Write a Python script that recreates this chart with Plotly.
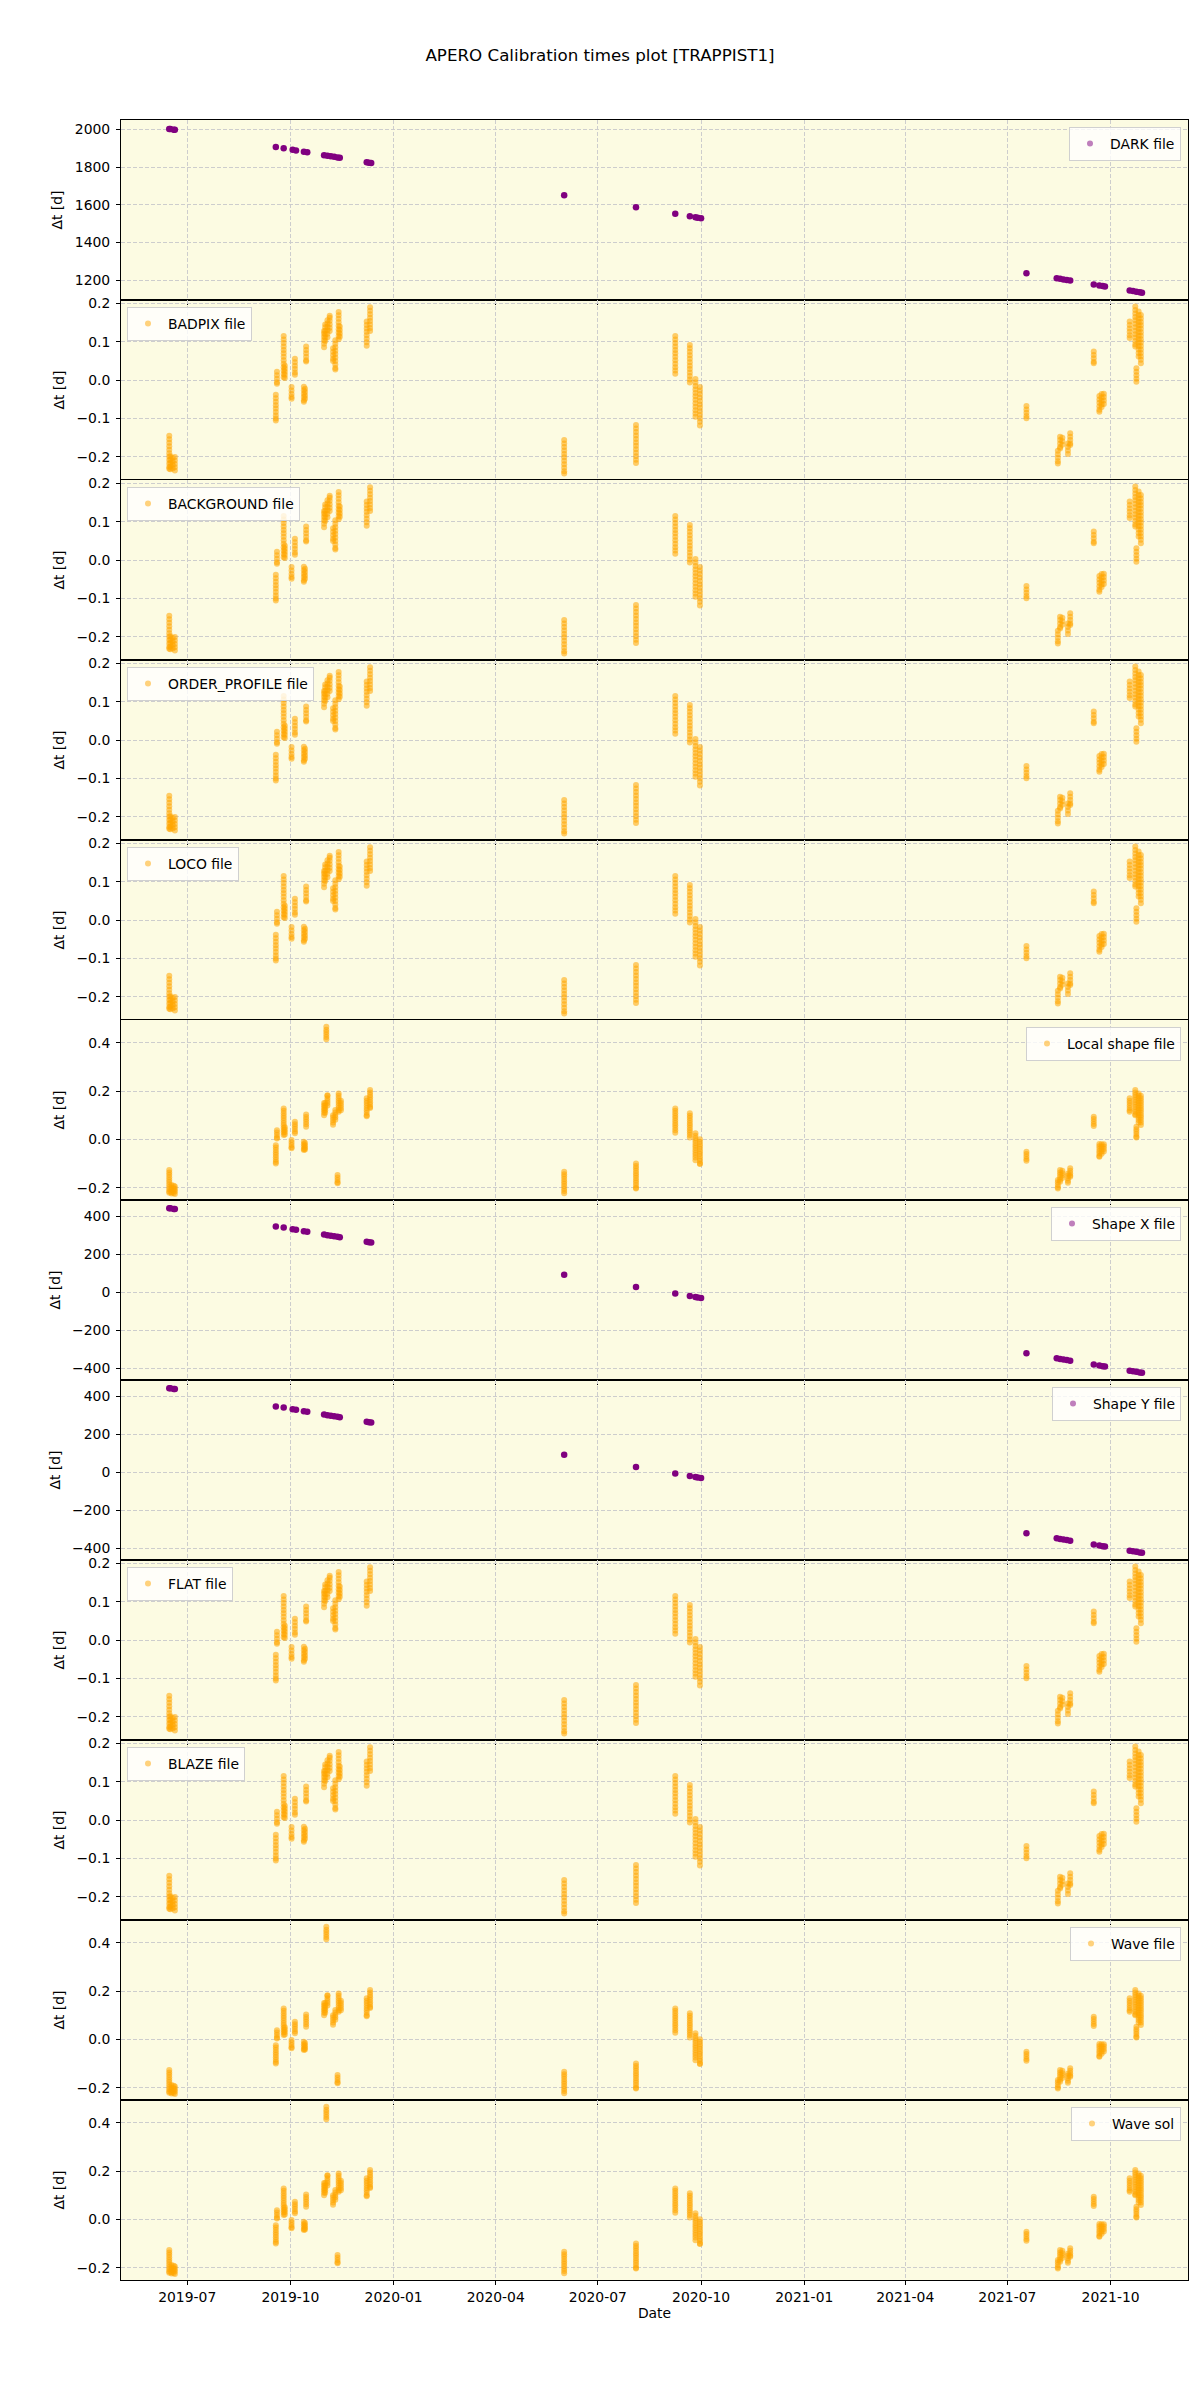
import plotly.graph_objects as go
from plotly.subplots import make_subplots

# ---------------- data ----------------
dark_dates = ["2019-06-15", "2019-06-16", "2019-06-19", "2019-06-20",
              "2019-09-18", "2019-09-25", "2019-10-03", "2019-10-06", "2019-10-13", "2019-10-16",
              "2019-10-31", "2019-11-03", "2019-11-06", "2019-11-09", "2019-11-12", "2019-11-14",
              "2019-12-08", "2019-12-10", "2019-12-12",
              "2020-06-01", "2020-08-04", "2020-09-08", "2020-09-21", "2020-09-26", "2020-09-28", "2020-10-01",
              "2021-07-18", "2021-08-14", "2021-08-17", "2021-08-20", "2021-08-23", "2021-08-26",
              "2021-09-16", "2021-09-21", "2021-09-24", "2021-09-26",
              "2021-10-18", "2021-10-21", "2021-10-24", "2021-10-27", "2021-10-29"]
dark_dt = [2002, 2001, 1998, 1997,
           1906, 1900, 1891, 1888, 1881, 1878,
           1863, 1860, 1857, 1854, 1851, 1849,
           1825, 1823, 1821,
           1651, 1587, 1552, 1539, 1534, 1532, 1529,
           1238, 1211, 1208, 1205, 1202, 1199,
           1178, 1173, 1170, 1168,
           1146, 1143, 1140, 1137, 1135]

shapex_dates = dark_dates
shapex_dt = [443, 442, 439, 438,
             347, 341, 332, 329, 322, 319,
             304, 301, 298, 295, 292, 290,
             266, 264, 262,
             92, 28, -7, -20, -25, -27, -30,
             -321, -348, -351, -354, -357, -360,
             -381, -386, -389, -391,
             -413, -416, -419, -422, -424]

night_dates = ["2019-06-15", "2019-06-16", "2019-06-18", "2019-06-20",
               "2019-09-18", "2019-09-19", "2019-09-25", "2019-09-26",
               "2019-10-02", "2019-10-05", "2019-10-13", "2019-10-14", "2019-10-15",
               "2019-10-31", "2019-11-01", "2019-11-03", "2019-11-05",
               "2019-11-08", "2019-11-10", "2019-11-13", "2019-11-14",
               "2019-12-08", "2019-12-11",
               "2020-06-01", "2020-08-04", "2020-09-08", "2020-09-21", "2020-09-26", "2020-09-30",
               "2021-07-18", "2021-08-15", "2021-08-17", "2021-08-19", "2021-08-24", "2021-08-26",
               "2021-09-16", "2021-09-21", "2021-09-23", "2021-09-25",
               "2021-10-18", "2021-10-23", "2021-10-24", "2021-10-26", "2021-10-28"]
night_dt = [
    [-0.145, -0.154, -0.163, -0.172, -0.181, -0.19, -0.199, -0.208, -0.217, -0.226, -0.231],
    [-0.198, -0.207, -0.216, -0.225, -0.232],
    [-0.203, -0.212, -0.221, -0.23],
    [-0.2, -0.209, -0.218, -0.227, -0.235],
    [-0.038, -0.047, -0.056, -0.065, -0.074, -0.083, -0.092, -0.1, -0.105],
    [0.022, 0.013, 0.004, -0.005, -0.009],
    [0.115, 0.106, 0.097, 0.088, 0.079, 0.07, 0.061, 0.052, 0.043, 0.034, 0.025, 0.016, 0.008],
    [0.038, 0.03, 0.022, 0.014, 0.006],
    [-0.018, -0.027, -0.036, -0.044, -0.048],
    [0.056, 0.047, 0.038, 0.029, 0.02, 0.014],
    [-0.017, -0.026, -0.035, -0.044, -0.052, -0.056],
    [-0.022, -0.031, -0.04, -0.048],
    [0.088, 0.079, 0.07, 0.061, 0.052, 0.049],
    [0.086, 0.095, 0.104, 0.113, 0.122, 0.128],
    [0.102, 0.111, 0.12, 0.129, 0.138, 0.145],
    [0.112, 0.121, 0.13, 0.139, 0.148, 0.156],
    [0.128, 0.137, 0.146, 0.155, 0.163, 0.168],
    [0.083, 0.074, 0.065, 0.056, 0.05],
    [0.104, 0.095, 0.086, 0.077, 0.068, 0.059, 0.05, 0.041, 0.032, 0.028],
    [0.178, 0.169, 0.16, 0.151, 0.142, 0.133, 0.124, 0.115, 0.107],
    [0.14, 0.131, 0.122, 0.113],
    [0.153, 0.144, 0.135, 0.126, 0.117, 0.108, 0.099, 0.09],
    [0.19, 0.181, 0.172, 0.163, 0.154, 0.145, 0.136, 0.128],
    [-0.156, -0.165, -0.174, -0.183, -0.192, -0.201, -0.21, -0.219, -0.228, -0.237, -0.243],
    [-0.117, -0.126, -0.135, -0.144, -0.153, -0.162, -0.171, -0.18, -0.189, -0.198, -0.207, -0.216],
    [0.115, 0.106, 0.097, 0.088, 0.079, 0.07, 0.061, 0.052, 0.043, 0.034, 0.025, 0.017],
    [0.092, 0.083, 0.074, 0.065, 0.056, 0.047, 0.038, 0.029, 0.02, 0.011, 0.002, -0.006],
    [0.003, -0.006, -0.015, -0.024, -0.033, -0.042, -0.051, -0.06, -0.069, -0.078, -0.087, -0.095],
    [-0.018, -0.027, -0.036, -0.045, -0.054, -0.063, -0.072, -0.081, -0.09, -0.099, -0.108, -0.118],
    [-0.067, -0.076, -0.085, -0.093, -0.099],
    [-0.184, -0.193, -0.202, -0.211, -0.217],
    [-0.147, -0.156, -0.165, -0.174, -0.178],
    [-0.15, -0.159, -0.168],
    [-0.165, -0.174, -0.183, -0.192],
    [-0.138, -0.147, -0.156, -0.165, -0.169],
    [0.075, 0.066, 0.057, 0.048, 0.044],
    [-0.041, -0.05, -0.059, -0.068, -0.077, -0.082],
    [-0.036, -0.045, -0.054, -0.063, -0.07],
    [-0.035, -0.044, -0.053, -0.062],
    [0.153, 0.144, 0.135, 0.126, 0.117, 0.11],
    [0.192, 0.183, 0.174, 0.165, 0.156, 0.147, 0.138, 0.129, 0.12, 0.111, 0.102, 0.093, 0.088],
    [0.031, 0.022, 0.013, 0.004, -0.004],
    [0.179, 0.17, 0.161, 0.152, 0.143, 0.134, 0.125, 0.116, 0.107, 0.098, 0.089, 0.08, 0.071, 0.062],
    [0.17, 0.161, 0.152, 0.143, 0.134, 0.125, 0.116, 0.107, 0.098, 0.089, 0.08, 0.071, 0.062, 0.053, 0.044],
]

shape_dates = ["2019-06-15", "2019-06-17", "2019-06-19", "2019-06-20",
               "2019-09-18", "2019-09-19", "2019-09-25", "2019-09-26",
               "2019-10-02", "2019-10-05", "2019-10-13", "2019-10-14", "2019-10-15",
               "2019-10-31", "2019-11-01", "2019-11-02", "2019-11-03",
               "2019-11-08", "2019-11-10", "2019-11-12", "2019-11-13", "2019-11-15",
               "2019-12-08", "2019-12-11",
               "2020-06-01", "2020-08-04", "2020-09-08", "2020-09-21", "2020-09-26", "2020-09-30",
               "2021-07-18", "2021-08-15", "2021-08-17", "2021-08-19", "2021-08-24", "2021-08-26",
               "2021-09-16", "2021-09-21", "2021-09-23", "2021-09-25",
               "2021-10-18", "2021-10-23", "2021-10-24", "2021-10-26", "2021-10-28"]
shape_dt = [
    [-0.127, -0.137, -0.147, -0.157, -0.167, -0.177, -0.187, -0.197, -0.207, -0.216, -0.221],
    [-0.189, -0.199, -0.209, -0.219, -0.224],
    [-0.192, -0.202, -0.212, -0.222],
    [-0.195, -0.205, -0.215, -0.226],
    [-0.024, -0.034, -0.044, -0.054, -0.064, -0.074, -0.084, -0.094, -0.1],
    [0.038, 0.028, 0.018, 0.008, 0.004],
    [0.128, 0.118, 0.108, 0.098, 0.088, 0.078, 0.068, 0.058, 0.048, 0.038, 0.028, 0.018],
    [0.05, 0.04, 0.03, 0.02],
    [-0.003, -0.013, -0.023, -0.033, -0.037],
    [0.073, 0.063, 0.053, 0.043, 0.033, 0.025],
    [-0.01, -0.02, -0.03, -0.04, -0.044],
    [-0.015, -0.025, -0.035, -0.042],
    [0.103, 0.093, 0.083, 0.073, 0.063, 0.052],
    [0.1, 0.11, 0.12, 0.13, 0.14, 0.15],
    [0.11, 0.12, 0.13, 0.14, 0.15],
    [0.414, 0.424, 0.434, 0.444, 0.454, 0.466],
    [0.14, 0.15, 0.16, 0.17, 0.18, 0.183],
    [0.1, 0.09, 0.08, 0.07, 0.06],
    [0.121, 0.111, 0.101, 0.091, 0.081],
    [-0.148, -0.158, -0.168, -0.178, -0.182],
    [0.19, 0.18, 0.17, 0.16, 0.15, 0.14, 0.13, 0.12, 0.114],
    [0.16, 0.15, 0.14, 0.13, 0.12],
    [0.17, 0.16, 0.15, 0.14, 0.13, 0.12, 0.11, 0.1, 0.096],
    [0.204, 0.194, 0.184, 0.174, 0.164, 0.154, 0.144, 0.134, 0.13],
    [-0.134, -0.144, -0.154, -0.164, -0.174, -0.184, -0.194, -0.204, -0.214, -0.223],
    [-0.1, -0.11, -0.12, -0.13, -0.14, -0.15, -0.16, -0.17, -0.18, -0.19, -0.2, -0.203],
    [0.128, 0.118, 0.108, 0.098, 0.088, 0.078, 0.068, 0.058, 0.048, 0.038, 0.027],
    [0.108, 0.098, 0.088, 0.078, 0.068, 0.058, 0.048, 0.038, 0.028, 0.018, 0.008],
    [0.025, 0.015, 0.005, -0.005, -0.015, -0.025, -0.035, -0.045, -0.055, -0.065, -0.075, -0.086],
    [0.0, -0.01, -0.02, -0.03, -0.04, -0.05, -0.06, -0.07, -0.08, -0.09, -0.1, -0.102],
    [-0.051, -0.061, -0.071, -0.081, -0.089],
    [-0.168, -0.178, -0.188, -0.198, -0.203],
    [-0.127, -0.137, -0.147, -0.157, -0.167, -0.175],
    [-0.13, -0.14, -0.15, -0.16],
    [-0.141, -0.151, -0.161, -0.171, -0.18],
    [-0.12, -0.13, -0.14, -0.15, -0.155],
    [0.094, 0.084, 0.074, 0.064, 0.055],
    [-0.019, -0.029, -0.039, -0.049, -0.059, -0.069, -0.072],
    [-0.02, -0.03, -0.04, -0.05, -0.06],
    [-0.02, -0.03, -0.04, -0.05],
    [0.17, 0.16, 0.15, 0.14, 0.13, 0.12, 0.114],
    [0.204, 0.194, 0.184, 0.174, 0.164, 0.154, 0.144, 0.134, 0.124, 0.114, 0.104, 0.1],
    [0.052, 0.042, 0.032, 0.022, 0.012, 0.008],
    [0.19, 0.18, 0.17, 0.16, 0.15, 0.14, 0.13, 0.12, 0.11, 0.1, 0.09, 0.08, 0.07],
    [0.18, 0.17, 0.16, 0.15, 0.14, 0.13, 0.12, 0.11, 0.1, 0.09, 0.08, 0.07, 0.059],
]

panel_labels = ["DARK file", "BADPIX file", "BACKGROUND file", "ORDER_PROFILE file", "LOCO file",
                "Local shape file", "Shape X file", "Shape Y file", "FLAT file", "BLAZE file",
                "Wave file", "Wave sol"]
panel_groups = ["dark", "night", "night", "night", "night", "shape", "shapex", "shapex",
                "night", "night", "shape", "shape"]
legend_sides = ["right", "left", "left", "left", "left", "right", "right", "right",
                "left", "left", "right", "right"]

# ---------------- styling ----------------
FONT = "DejaVu Sans"
PURPLE = "#800080"
ORANGE = "#FFA500"
BG = "#FCFBE2"
GRID = "#cdcdcd"

groups = {
    "dark": (dark_dates, [[v] for v in dark_dt]),
    "shapex": (shapex_dates, [[v] for v in shapex_dt]),
    "night": (night_dates, night_dt),
    "shape": (shape_dates, shape_dt),
}
yranges = {"dark": [1096, 2049], "shapex": [-462, 486],
           "night": [-0.26, 0.209], "shape": [-0.251, 0.494]}
ydticks = {"dark": 200, "shapex": 200, "night": 0.1, "shape": 0.2}
yfmt = {"dark": "d", "shapex": "d", "night": ".1f", "shape": ".1f"}

N = len(panel_labels)
fig = make_subplots(rows=N, cols=1, shared_xaxes=True, vertical_spacing=0)

W, H = 1200, 2400
ml, mr, mt, mb = 121, 12, 120, 120
plot_h = H - mt - mb
plot_w = W - ml - mr

for i, (label, grp, side) in enumerate(zip(panel_labels, panel_groups, legend_sides)):
    row = i + 1
    dates, vals = groups[grp]
    xs = [d for d, v in zip(dates, vals) for _ in v]
    ys = [y for v in vals for y in v]
    purple = grp in ("dark", "shapex")
    color = PURPLE if purple else ORANGE
    lname = "legend" if i == 0 else f"legend{i + 1}"
    fig.add_trace(go.Scatter(
        x=xs, y=ys, mode="markers",
        marker=dict(color=color, size=6.5 if purple else 6, opacity=1.0 if purple else 0.55,
                    line=dict(width=0)),
        showlegend=False, hoverinfo="x+y"), row=row, col=1)
    fig.add_trace(go.Scatter(
        x=[None], y=[None], mode="markers", name=label,
        marker=dict(color=color, size=6, opacity=0.5),
        legend=lname, showlegend=True), row=row, col=1)

    top = 1 - i / N - 7 / plot_h
    if side == "right":
        leg = dict(x=1 - 7 / plot_w, xanchor="right")
    else:
        leg = dict(x=6 / plot_w, xanchor="left")
    leg.update(y=top, yanchor="top", xref="paper", yref="paper",
               bgcolor="rgba(255,255,255,0.8)", bordercolor="#d0d0d0", borderwidth=1,
               font=dict(family=FONT, size=13.9, color="black"),
               itemsizing="trace", tracegroupgap=0)
    fig.update_layout(**{lname: leg})

    fig.update_yaxes(
        row=row, col=1, range=yranges[grp], dtick=ydticks[grp], tick0=0,
        tickformat=yfmt[grp], showgrid=True, gridcolor=GRID, griddash="4px,2px", gridwidth=1,
        zeroline=False, showline=True, mirror=True, linecolor="black", linewidth=1,
        ticks="outside", ticklen=4, tickcolor="black", ticklabelstandoff=3,
        tickfont=dict(family=FONT, size=13.9, color="black"),
        title=dict(text="Δt [d]", standoff=8, font=dict(family=FONT, size=13.9, color="black")),
    )
    fig.update_xaxes(
        row=row, col=1, type="date", range=["2019-05-03", "2021-12-09"],
        tick0="2019-07-01", dtick="M3", tickformat="%Y-%m",
        showgrid=True, gridcolor=GRID, griddash="4px,2px", gridwidth=1,
        zeroline=False, showline=True, mirror=True, linecolor="black", linewidth=1,
        ticks="outside", ticklen=4, tickcolor="black",
        tickfont=dict(family=FONT, size=13.9, color="black"),
    )

fig.update_xaxes(row=N, col=1,
                 title=dict(text="Date", standoff=4, font=dict(family=FONT, size=13.9, color="black")))

fig.update_layout(
    width=W, height=H,
    margin=dict(l=ml, r=mr, t=mt, b=mb, pad=0),
    paper_bgcolor="white", plot_bgcolor=BG,
    font=dict(family=FONT, size=13.9, color="black"),
    title=dict(text="APERO Calibration times plot [TRAPPIST1]", x=0.5, xref="container",
               xanchor="center", y=1 - 55 / H, yref="container", yanchor="middle",
               font=dict(family=FONT, size=16.7, color="black")),
    hovermode="closest",
)

fig.write_html("out.html")
